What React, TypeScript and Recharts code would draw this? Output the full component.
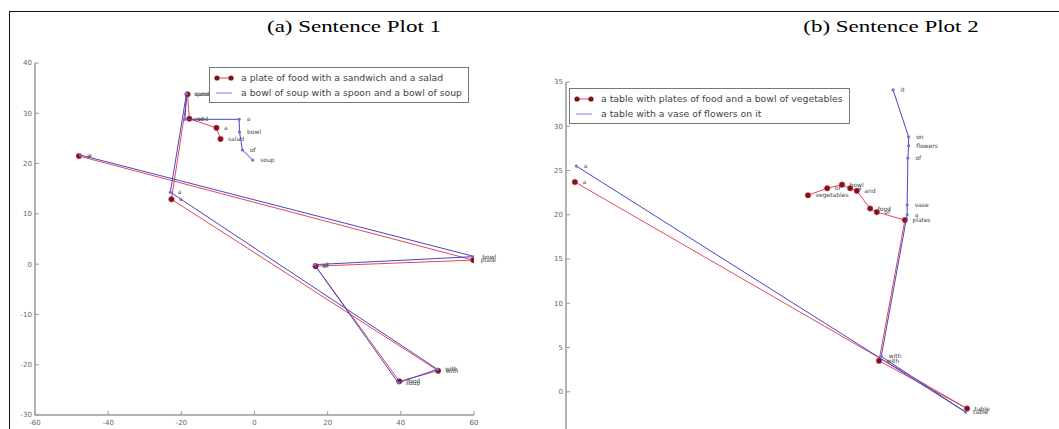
import React from 'react';
import { ScatterChart, Scatter, XAxis, YAxis, Legend, LabelList } from 'recharts';

// Sentence plot 1: word positions for each caption
const plot1Titles = ['a plate of food with a sandwich and a salad', 'a bowl of soup with a spoon and a bowl of soup'];
const plot1Words1 = ['a', 'plate', 'of', 'food', 'with', 'a', 'sandwich', 'and', 'a', 'salad'];
const plot1X1 = [-48, 59.8, 16.7, 39.6, 50.2, -22.7, -18.3, -17.8, -10.4, -9.3];
const plot1Y1 = [21.5, 0.8, -0.4, -23.3, -21.2, 12.9, 33.8, 28.9, 27.1, 24.9];
const plot1Words2 = ['a', 'bowl', 'of', 'soup', 'with', 'a', 'spoon', 'and', 'a', 'bowl', 'of', 'soup'];
const plot1X2 = [-47.6, 60.2, 16.4, 39.3, 50, -23, -18.6, -19, -4.2, -4.1, -3.3, -0.5];
const plot1Y2 = [21.7, 1.5, -0.1, -23.6, -20.9, 14.3, 33.9, 28.8, 28.8, 26.3, 22.7, 20.7];

// Sentence plot 2
const plot2Titles = ['a table with plates of food and a bowl of vegetables', 'a table with a vase of flowers on it'];
const plot2Words1 = ['a', 'table', 'with', 'plates', 'of', 'food', 'and', 'a', 'bowl', 'of', 'vegetables'];
const plot2X1 = [-28.8, 24.2, 12.3, 15.8, 12.0, 11.1, 9.3, 8.4, 7.3, 5.3, 2.7];
const plot2Y1 = [23.7, -1.9, 3.5, 19.4, 20.3, 20.7, 22.7, 23.0, 23.4, 23.0, 22.2];
const plot2Words2 = ['a', 'table', 'with', 'a', 'vase', 'of', 'flowers', 'on', 'it'];
const plot2X2 = [-28.6, 24.0, 12.6, 16.1, 16.1, 16.2, 16.3, 16.3, 14.2];
const plot2Y2 = [25.5, -2.3, 4.0, 20.0, 21.1, 26.4, 27.8, 28.8, 34.1];

const plot1XTicks = [-60, -40, -20, 0, 20, 40, 60];
const plot1YTicks = [-30, -20, -10, 0, 10, 20, 30, 40];
const plot2XTicks = [-30, -20, -10, 0, 10, 20, 30];
const plot2YTicks = [-5, 0, 5, 10, 15, 20, 25, 30, 35];

const RED = '#e0485e';
const RED_DOT = '#7a1616';
const BLUE = '#4646c8';

const toPoints = (words: string[], xs: number[], ys: number[]) =>
  words.map((word, i) => ({ word, x: xs[i], y: ys[i] }));

const RedDot = (props: any) => <circle cx={props.cx} cy={props.cy} r={2.8} fill={RED_DOT} stroke={RED} strokeWidth={0.5} />;
const BlueDot = (props: any) => <circle cx={props.cx} cy={props.cy} r={1.6} fill="#7070e0" />;

const tickStyle = { fontSize: 7, fill: '#666', fontFamily: 'DejaVu Sans' };
const axisLine = { stroke: '#999', strokeWidth: 1.5 };

const LegendBox = ({ titles }: { titles: string[] }) => (
  <div
    style={{
      border: '1px solid #777',
      background: '#fff',
      padding: '2px 6px 2px 4px',
      fontFamily: 'DejaVu Sans',
      fontSize: 9.3,
      color: '#444',
      lineHeight: '15px',
      whiteSpace: 'nowrap',
    }}
  >
    <div style={{ display: 'flex', alignItems: 'center' }}>
      <svg width={20} height={8} style={{ marginRight: 7 }}>
        <line x1={3} y1={4} x2={17} y2={4} stroke={RED} strokeWidth={1} />
        <circle cx={3} cy={4} r={2.6} fill={RED_DOT} />
        <circle cx={17} cy={4} r={2.6} fill={RED_DOT} />
      </svg>
      {titles[0]}
    </div>
    <div style={{ display: 'flex', alignItems: 'center' }}>
      <svg width={20} height={8} style={{ marginRight: 7 }}>
        <line x1={2} y1={4} x2={18} y2={4} stroke="#7a7ae0" strokeWidth={1} />
      </svg>
      {titles[1]}
    </div>
  </div>
);

interface PlotProps {
  width: number;
  height: number;
  margin: { top: number; right: number; bottom: number; left: number };
  xDomain: [number, number];
  yDomain: [number, number];
  xTicks: number[];
  yTicks: number[];
  series1: { word: string; x: number; y: number }[];
  series2: { word: string; x: number; y: number }[];
  titles: string[];
  legendPos: { left: number; top: number };
}

const SentencePlot = ({ width, height, margin, xDomain, yDomain, xTicks, yTicks, series1, series2, titles, legendPos }: PlotProps) => (
  <ScatterChart width={width} height={height} margin={margin}>
    <XAxis
      type="number"
      dataKey="x"
      domain={xDomain}
      ticks={xTicks}
      allowDataOverflow
      height={14}
      tick={tickStyle}
      tickSize={-4}
      tickMargin={9}
      axisLine={axisLine}
      tickLine={{ stroke: '#999' }}
    />
    <XAxis
      xAxisId="top"
      orientation="top"
      type="number"
      domain={xDomain}
      ticks={xTicks}
      height={0}
      tick={false}
      tickSize={-4}
      axisLine={axisLine}
      tickLine={{ stroke: '#999' }}
    />
    <YAxis
      type="number"
      dataKey="y"
      domain={yDomain}
      ticks={yTicks}
      allowDataOverflow
      width={30}
      tick={tickStyle}
      tickSize={-4}
      tickMargin={7}
      axisLine={axisLine}
      tickLine={{ stroke: '#999' }}
    />
    <YAxis
      yAxisId="right"
      orientation="right"
      type="number"
      domain={yDomain}
      ticks={yTicks}
      width={0}
      tick={false}
      tickSize={-4}
      axisLine={axisLine}
      tickLine={{ stroke: '#999' }}
    />
    <Legend
      layout="vertical"
      align="center"
      verticalAlign="middle"
      wrapperStyle={{ left: legendPos.left, top: legendPos.top, width: 'auto' }}
      content={() => <LegendBox titles={titles} />}
    />
    <Scatter
      name={titles[0]}
      data={series1}
      fill={RED_DOT}
      line={{ stroke: RED, strokeWidth: 1 }}
      shape={RedDot}
      isAnimationActive={false}
    >
      <LabelList dataKey="word" position="right" offset={3} fontSize={6} fill="#444" fontFamily="DejaVu Sans" />
    </Scatter>
    <Scatter
      name={titles[1]}
      data={series2}
      fill={BLUE}
      line={{ stroke: BLUE, strokeWidth: 1 }}
      shape={BlueDot}
      isAnimationActive={false}
    >
      <LabelList dataKey="word" position="right" offset={3} fontSize={6} fill="#444" fontFamily="DejaVu Sans" />
    </Scatter>
  </ScatterChart>
);

const titleStyle = (center: number): React.CSSProperties => ({
  position: 'absolute',
  left: center - 200,
  top: 18,
  width: 400,
  textAlign: 'center',
  fontFamily: '"Liberation Serif", serif',
  fontSize: 17,
  lineHeight: '17px',
  color: '#000',
  transform: 'scaleX(1.35)',
  transformOrigin: 'center',
});

export default function App() {
  return (
    <div style={{ position: 'fixed', left: 0, top: 0, width: 1059, height: 429, overflow: 'hidden', background: '#fff' }}>
      <div style={{ position: 'absolute', left: 9, top: 11, right: 0, bottom: 0, borderTop: '1.5px solid #111', borderLeft: '1.5px solid #111' }} />
      <div style={titleStyle(354)}>(a) Sentence Plot 1</div>
      <div style={titleStyle(891)}>(b) Sentence Plot 2</div>
      <div style={{ position: 'absolute', left: 0, top: 0 }}>
        <SentencePlot
          width={500}
          height={429}
          margin={{ top: 63, right: 26, bottom: 0, left: 5 }}
          xDomain={[-60, 60]}
          yDomain={[-30, 40]}
          xTicks={plot1XTicks}
          yTicks={plot1YTicks}
          series1={toPoints(plot1Words1, plot1X1, plot1Y1)}
          series2={toPoints(plot1Words2, plot1X2, plot1Y2)}
          titles={plot1Titles}
          legendPos={{ left: 209, top: 67 }}
        />
      </div>
      <div style={{ position: 'absolute', left: 530, top: 0 }}>
        <SentencePlot
          width={529}
          height={470}
          margin={{ top: 82, right: 49, bottom: 20, left: 6 }}
          xDomain={[-30, 30]}
          yDomain={[-5, 35]}
          xTicks={plot2XTicks}
          yTicks={plot2YTicks}
          series1={toPoints(plot2Words1, plot2X1, plot2Y1)}
          series2={toPoints(plot2Words2, plot2X2, plot2Y2)}
          titles={plot2Titles}
          legendPos={{ left: 39, top: 88 }}
        />
      </div>
    </div>
  );
}
